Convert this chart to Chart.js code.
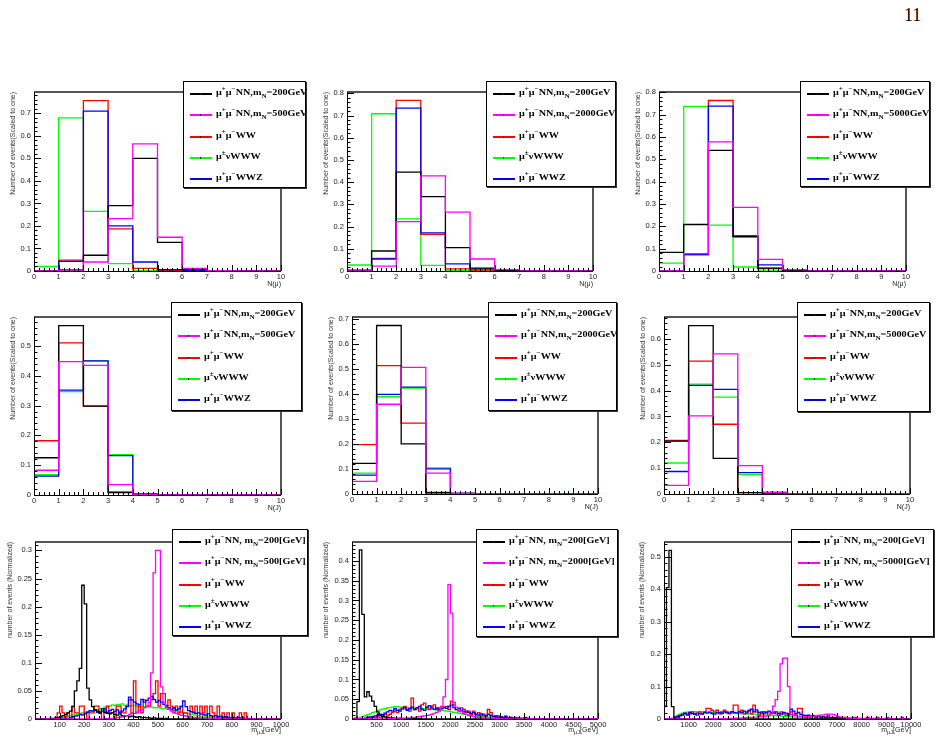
<!DOCTYPE html>
<html><head>
<meta charset="UTF-8">
<title>N(mu), N(J), m_muJ distributions</title>
<script src="https://cdn.jsdelivr.net/npm/chart.js"></script>
<style>
body {
  margin: 0;
  background: #ffffff;
  width: 941px;
  height: 742px;
  position: relative;
  overflow: hidden;
  font-family: "Liberation Sans", Arial, sans-serif;
}
canvas.pad { position: absolute; }
.leg {
  position: absolute;
  background: #fff;
  border: 1px solid #000;
  box-shadow: 1px 1px 0 #333;
  box-sizing: border-box;
  z-index: 2;
}
.leg .row { position: absolute; left: 0; right: 0; height: 0; }
.leg .smp { position: absolute; left: 6px; width: 22px; height: 2px; top: -1px; }
.leg .smp i { position: absolute; left: 10px; top: 0; width: 1px; height: 2px; background: #222; }
.leg .txt {
  position: absolute;
  left: 32px;
  top: -7px;
  line-height: 14px;
  font: bold 9px "Liberation Serif", "Times New Roman", serif;
  white-space: nowrap;
  transform: scaleX(1.13);
  transform-origin: 0 50%;
}
sup, sub { font-size: 70%; line-height: 0; }
.xt { position: absolute; font-size: 7px; line-height: 8px; color: #222; white-space: nowrap; }
.xt sub { font-size: 80%; }
#pageno { position: absolute; left: 904px; top: 5px; font: 18px "Liberation Serif", "Times New Roman", serif; }
</style>
</head>
<body>
<div id="pageno">11</div>

<script>
// ---- tick labels ----
const nTicks = [0, 1, 2, 3, 4, 5, 6, 7, 8, 9, 10];
const mTicks1000 = [100, 200, 300, 400, 500, 600, 700, 800, 900, 1000];
const mTicks5000 = [500, 1000, 1500, 2000, 2500, 3000, 3500, 4000, 4500, 5000];
const mTicks10000 = [1000, 2000, 3000, 4000, 5000, 6000, 7000, 8000, 9000, 10000];
const yTicks05 = [0, 0.1, 0.2, 0.3, 0.4, 0.5];
const yTicks06 = [0, 0.1, 0.2, 0.3, 0.4, 0.5, 0.6];
const yTicks07 = [0, 0.1, 0.2, 0.3, 0.4, 0.5, 0.6, 0.7];
const yTicks08 = [0, 0.1, 0.2, 0.3, 0.4, 0.5, 0.6, 0.7, 0.8];
const yTicks030 = [0, 0.05, 0.1, 0.15, 0.2, 0.25, 0.3];
const yTicks040 = [0, 0.05, 0.1, 0.15, 0.2, 0.25, 0.3, 0.35, 0.4];

// ---- N(mu), bins 0..10 ----
const p1_nn200 = [0, 0.005, 0.07, 0.29, 0.5, 0.127, 0.006, 0, 0, 0];
const p1_nn500 = [0, 0.004, 0.04, 0.233, 0.565, 0.15, 0.012, 0.001, 0, 0];
const p1_ww    = [0, 0.048, 0.757, 0.187, 0.012, 0.001, 0, 0, 0, 0];
const p1_www   = [0.02, 0.68, 0.265, 0.033, 0.002, 0, 0, 0, 0, 0];
const p1_wwz   = [0, 0.043, 0.71, 0.2, 0.04, 0.006, 0.001, 0, 0, 0];

const p2_nn200  = [0.004, 0.09, 0.445, 0.335, 0.105, 0.013, 0.002, 0, 0, 0];
const p2_nn2000 = [0, 0.022, 0.222, 0.428, 0.265, 0.054, 0.006, 0.001, 0, 0];
const p2_ww     = [0, 0.057, 0.768, 0.165, 0.01, 0, 0, 0, 0, 0];
const p2_www    = [0.027, 0.708, 0.235, 0.025, 0.003, 0, 0, 0, 0, 0];
const p2_wwz    = [0, 0.054, 0.733, 0.172, 0.032, 0.008, 0.001, 0, 0, 0];

const p3_nn200  = [0.083, 0.208, 0.54, 0.155, 0.013, 0.001, 0, 0, 0, 0];
const p3_nn5000 = [0, 0.078, 0.578, 0.285, 0.052, 0.006, 0.001, 0, 0, 0];
const p3_ww     = [0, 0.073, 0.763, 0.152, 0.012, 0, 0, 0, 0, 0];
const p3_www    = [0.035, 0.737, 0.205, 0.018, 0.004, 0, 0, 0, 0, 0];
const p3_wwz    = [0, 0.073, 0.738, 0.157, 0.027, 0.005, 0, 0, 0, 0];

// ---- N(J), bins 0..10 ----
const p4_nn200 = [0.125, 0.568, 0.298, 0.008, 0, 0, 0, 0, 0, 0];
const p4_nn500 = [0.083, 0.447, 0.435, 0.035, 0.001, 0, 0, 0, 0, 0];
const p4_ww    = [0.182, 0.51, 0.298, 0.01, 0, 0, 0, 0, 0, 0];
const p4_www   = [0.068, 0.347, 0.45, 0.135, 0.003, 0, 0, 0, 0, 0];
const p4_wwz   = [0.063, 0.352, 0.45, 0.132, 0.004, 0, 0, 0, 0, 0];

const p5_nn200  = [0.122, 0.672, 0.2, 0.005, 0, 0, 0, 0, 0, 0];
const p5_nn2000 = [0.05, 0.358, 0.505, 0.083, 0.003, 0, 0, 0, 0, 0];
const p5_ww     = [0.197, 0.512, 0.283, 0.006, 0, 0, 0, 0, 0, 0];
const p5_www    = [0.083, 0.388, 0.422, 0.104, 0.003, 0, 0, 0, 0, 0];
const p5_wwz    = [0.075, 0.397, 0.426, 0.1, 0.002, 0, 0, 0, 0, 0];

const p6_nn200  = [0.205, 0.652, 0.138, 0.005, 0, 0, 0, 0, 0, 0];
const p6_nn5000 = [0.033, 0.302, 0.542, 0.11, 0.006, 0, 0, 0, 0, 0];
const p6_ww     = [0.207, 0.514, 0.27, 0.005, 0, 0, 0, 0, 0, 0];
const p6_www    = [0.12, 0.425, 0.375, 0.075, 0.005, 0, 0, 0, 0, 0];
const p6_wwz    = [0.087, 0.42, 0.405, 0.083, 0.006, 0, 0, 0, 0, 0];

// ---- m_muJ, 0..1000 GeV, 10 GeV bins ----
const p7_nn200 = [
  0, 0, 0, 0, 0, 0, 0.001, 0.001, 0.002, 0.003,
  0.004, 0.006, 0.008, 0.011, 0.014, 0.022, 0.05, 0.068, 0.09, 0.238,
  0.205, 0.055, 0.034, 0.022, 0.016, 0.014, 0.012, 0.018, 0.012, 0.01,
  0.009, 0.011, 0.008, 0.007, 0.009, 0.006, 0.005, 0.006, 0.004, 0.005,
  0.004, 0.003, 0.004, 0.002, 0.003, 0.002, 0.002, 0.001, 0.002, 0.001,
  0.001, 0.001, 0, 0.001, 0, 0, 0, 0, 0, 0,
  0, 0, 0, 0, 0, 0, 0, 0, 0, 0,
  0, 0, 0, 0, 0, 0, 0, 0, 0, 0,
  0, 0, 0, 0, 0, 0, 0, 0, 0, 0,
  0, 0, 0, 0, 0, 0, 0, 0, 0, 0];
const p7_nn500 = [
  0, 0, 0, 0, 0, 0, 0, 0, 0, 0,
  0, 0, 0, 0, 0, 0, 0, 0, 0, 0,
  0, 0, 0, 0, 0, 0, 0, 0, 0.001, 0.001,
  0.001, 0.001, 0.002, 0.002, 0.003, 0.004, 0.005, 0.006, 0.008, 0.01,
  0.01, 0.012, 0.015, 0.016, 0.02, 0.022, 0.03, 0.082, 0.26, 0.3,
  0.3, 0.057, 0.03, 0.02, 0.017, 0.014, 0.012, 0.01, 0.008, 0.007,
  0.006, 0.005, 0.004, 0.004, 0.003, 0.003, 0.002, 0.002, 0.002, 0.002,
  0.001, 0.001, 0.001, 0.001, 0.001, 0, 0, 0, 0, 0,
  0, 0, 0, 0, 0, 0, 0, 0, 0, 0,
  0, 0, 0, 0, 0, 0, 0, 0, 0, 0];
const p7_ww = [
  0, 0, 0, 0, 0, 0, 0, 0, 0, 0.011,
  0.023, 0.011, 0, 0.011, 0, 0.023, 0.011, 0.011, 0.023, 0.023,
  0.011, 0, 0.011, 0.011, 0.023, 0.023, 0.011, 0, 0.011, 0.023,
  0.011, 0.011, 0, 0.023, 0.023, 0.011, 0.011, 0.023, 0.034, 0.011,
  0.068, 0.011, 0.023, 0.011, 0.034, 0.023, 0.023, 0.034, 0.045, 0.068,
  0.023, 0.045, 0.045, 0.023, 0.034, 0.023, 0.011, 0.023, 0.011, 0.023,
  0.011, 0.011, 0, 0.023, 0.011, 0.023, 0, 0.023, 0.011, 0.023,
  0, 0.023, 0.011, 0, 0.023, 0, 0.011, 0, 0.011, 0,
  0.011, 0, 0, 0.011, 0, 0.011, 0, 0, 0, 0,
  0, 0, 0, 0, 0, 0, 0, 0, 0, 0];
const p7_www = [
  0, 0, 0, 0, 0, 0, 0, 0, 0, 0.001,
  0.002, 0.003, 0.004, 0.005, 0.006, 0.007, 0.008, 0.009, 0.01, 0.011,
  0.012, 0.013, 0.014, 0.015, 0.016, 0.017, 0.018, 0.019, 0.021, 0.022,
  0.023, 0.025, 0.024, 0.026, 0.025, 0.027, 0.024, 0.025, 0.023, 0.024,
  0.024, 0.023, 0.022, 0.023, 0.022, 0.021, 0.022, 0.021, 0.02, 0.02,
  0.02, 0.019, 0.018, 0.018, 0.017, 0.016, 0.015, 0.014, 0.013, 0.012,
  0.011, 0.01, 0.009, 0.008, 0.008, 0.007, 0.006, 0.005, 0.005, 0.004,
  0.004, 0.003, 0.003, 0.003, 0.002, 0.002, 0.002, 0.002, 0.001, 0.001,
  0.001, 0.001, 0.001, 0, 0, 0, 0, 0, 0, 0,
  0, 0, 0, 0, 0, 0, 0, 0, 0, 0];
const p7_wwz = [
  0, 0, 0, 0, 0, 0, 0, 0, 0, 0,
  0, 0, 0, 0, 0.002, 0.004, 0.005, 0.006, 0.008, 0.007,
  0.009, 0.012, 0.015, 0.014, 0.016, 0.012, 0.01, 0.014, 0.018, 0.012,
  0.015, 0.017, 0.013, 0.016, 0.012, 0.014, 0.018, 0.022, 0.039, 0.034,
  0.03, 0.027, 0.025, 0.035, 0.03, 0.033, 0.037, 0.04, 0.035, 0.03,
  0.033, 0.03, 0.026, 0.024, 0.02, 0.017, 0.02, 0.016, 0.018, 0.022,
  0.032, 0.022, 0.015, 0.013, 0.012, 0.01, 0.011, 0.009, 0.008, 0.007,
  0.009, 0.006, 0.005, 0.006, 0.004, 0.005, 0.003, 0.004, 0.003, 0.002,
  0.003, 0.002, 0.003, 0.002, 0.002, 0.001, 0.001, 0, 0, 0,
  0, 0, 0, 0, 0, 0, 0, 0, 0, 0];

// ---- m_muJ, 0..5000 GeV, 50 GeV bins ----
const p8_nn200 = [
  0, 0.002, 0.044, 0.428, 0.265, 0.056, 0.069, 0.058, 0.045, 0.032,
  0.018, 0.01, 0.007, 0.005, 0.004, 0.003, 0.003, 0.002, 0.002, 0.002,
  0.001, 0.001, 0.001, 0.001, 0.001, 0.001, 0, 0.001, 0, 0,
  0, 0, 0, 0, 0, 0, 0, 0, 0, 0,
  0, 0, 0, 0, 0, 0, 0, 0, 0, 0,
  0, 0, 0, 0, 0, 0, 0, 0, 0, 0,
  0, 0, 0, 0, 0, 0, 0, 0, 0, 0,
  0, 0, 0, 0, 0, 0, 0, 0, 0, 0,
  0, 0, 0, 0, 0, 0, 0, 0, 0, 0,
  0, 0, 0, 0, 0, 0, 0, 0, 0, 0];
const p8_nn2000 = [
  0, 0, 0, 0, 0, 0, 0, 0, 0, 0,
  0, 0, 0, 0, 0.001, 0.001, 0.001, 0.001, 0.001, 0.001,
  0.002, 0.002, 0.003, 0.003, 0.004, 0.004, 0.005, 0.006, 0.007, 0.008,
  0.009, 0.01, 0.012, 0.014, 0.017, 0.02, 0.03, 0.056, 0.1, 0.34,
  0.268, 0.042, 0.03, 0.022, 0.018, 0.014, 0.011, 0.009, 0.007, 0.006,
  0.005, 0.004, 0.004, 0.003, 0.003, 0.002, 0.002, 0.002, 0.001, 0.001,
  0.001, 0, 0, 0, 0, 0, 0, 0, 0, 0,
  0, 0, 0, 0, 0, 0, 0, 0, 0, 0,
  0, 0, 0, 0, 0, 0, 0, 0, 0, 0,
  0, 0, 0, 0, 0, 0, 0, 0, 0, 0];
const p8_ww = [
  0, 0, 0, 0, 0, 0, 0.004, 0, 0.004, 0.004,
  0.008, 0.004, 0.008, 0.012, 0.008, 0.012, 0.016, 0.02, 0.016, 0.024,
  0.028, 0.032, 0.024, 0.02, 0.053, 0.024, 0.028, 0.02, 0.036, 0.04,
  0.028, 0.024, 0.032, 0.036, 0.024, 0.028, 0.032, 0.028, 0.032, 0.024,
  0.045, 0.036, 0.024, 0.02, 0.028, 0.024, 0.016, 0.02, 0.012, 0.02,
  0.012, 0.016, 0.008, 0.012, 0.008, 0.024, 0.016, 0.008, 0.004, 0.008,
  0.004, 0.004, 0.008, 0, 0.004, 0, 0.004, 0, 0, 0,
  0.004, 0, 0, 0, 0, 0, 0, 0, 0, 0,
  0, 0, 0, 0, 0, 0, 0, 0, 0, 0,
  0, 0, 0, 0, 0, 0, 0, 0, 0, 0];
const p8_www = [
  0, 0.001, 0.002, 0.004, 0.006, 0.009, 0.011, 0.013, 0.016, 0.018,
  0.021, 0.023, 0.025, 0.026, 0.028, 0.029, 0.03, 0.031, 0.031, 0.03,
  0.03, 0.029, 0.029, 0.028, 0.028, 0.027, 0.027, 0.026, 0.027, 0.026,
  0.026, 0.025, 0.025, 0.024, 0.023, 0.022, 0.022, 0.021, 0.02, 0.019,
  0.018, 0.017, 0.016, 0.014, 0.013, 0.012, 0.011, 0.01, 0.009, 0.008,
  0.008, 0.007, 0.006, 0.006, 0.005, 0.005, 0.004, 0.004, 0.003, 0.003,
  0.003, 0.002, 0.002, 0.002, 0.002, 0.001, 0.001, 0.001, 0.001, 0.001,
  0.001, 0, 0, 0, 0, 0, 0, 0, 0, 0,
  0, 0, 0, 0, 0, 0, 0, 0, 0, 0,
  0, 0, 0, 0, 0, 0, 0, 0, 0, 0];
const p8_wwz = [
  0, 0, 0, 0, 0, 0.002, 0.004, 0.005, 0.006, 0.008,
  0.01, 0.012, 0.011, 0.015, 0.018, 0.022, 0.02, 0.026, 0.022, 0.02,
  0.025, 0.028, 0.022, 0.026, 0.03, 0.024, 0.028, 0.032, 0.025, 0.022,
  0.03, 0.034, 0.028, 0.025, 0.028, 0.024, 0.026, 0.03, 0.027, 0.032,
  0.035, 0.029, 0.024, 0.027, 0.022, 0.018, 0.02, 0.016, 0.014, 0.016,
  0.012, 0.01, 0.013, 0.01, 0.008, 0.012, 0.009, 0.006, 0.008, 0.005,
  0.006, 0.004, 0.005, 0.003, 0.004, 0.003, 0.002, 0.003, 0.002, 0.002,
  0.002, 0.002, 0.001, 0, 0, 0, 0, 0, 0, 0,
  0, 0, 0, 0, 0, 0, 0, 0, 0, 0,
  0, 0, 0, 0, 0, 0, 0, 0, 0, 0];

// ---- m_muJ, 0..10000 GeV, 100 GeV bins ----
const p9_nn200 = [
  0.04, 0.405, 0.52, 0.038, 0.002, 0.001, 0.001, 0, 0, 0,
  0, 0, 0, 0, 0, 0, 0, 0, 0, 0,
  0, 0, 0, 0, 0, 0, 0, 0, 0, 0,
  0, 0, 0, 0, 0, 0, 0, 0, 0, 0,
  0, 0, 0, 0, 0, 0, 0, 0, 0, 0,
  0, 0, 0, 0, 0, 0, 0, 0, 0, 0,
  0, 0, 0, 0, 0, 0, 0, 0, 0, 0,
  0, 0, 0, 0, 0, 0, 0, 0, 0, 0,
  0, 0, 0, 0, 0, 0, 0, 0, 0, 0,
  0, 0, 0, 0, 0, 0, 0, 0, 0, 0];
const p9_nn5000 = [
  0, 0, 0, 0, 0, 0, 0, 0, 0, 0,
  0, 0, 0, 0, 0, 0.001, 0.001, 0.001, 0.001, 0.001,
  0.001, 0.001, 0.001, 0.001, 0.001, 0.002, 0.002, 0.002, 0.003, 0.003,
  0.003, 0.003, 0.004, 0.004, 0.005, 0.005, 0.006, 0.006, 0.007, 0.007,
  0.008, 0.009, 0.01, 0.017, 0.04, 0.06, 0.085, 0.17, 0.188, 0.188,
  0.1, 0.015, 0.012, 0.01, 0.009, 0.008, 0.008, 0.007, 0.007, 0.007,
  0.008, 0.009, 0.01, 0.012, 0.013, 0.014, 0.015, 0.015, 0.014, 0.012,
  0.008, 0.006, 0.005, 0.004, 0.003, 0.003, 0.002, 0.002, 0.001, 0.001,
  0.001, 0, 0, 0, 0, 0, 0, 0, 0, 0,
  0, 0, 0, 0, 0, 0, 0, 0, 0, 0];
const p9_ww = [
  0, 0, 0, 0, 0.005, 0.005, 0.011, 0.011, 0.016, 0.011,
  0.016, 0.022, 0.016, 0.011, 0.022, 0.016, 0.022, 0.033, 0.033, 0.027,
  0.022, 0.027, 0.016, 0.022, 0.027, 0.022, 0.016, 0.022, 0.043, 0.043,
  0.022, 0.027, 0.016, 0.022, 0.027, 0.016, 0.043, 0.022, 0.011, 0.022,
  0.016, 0.022, 0.011, 0.016, 0.022, 0.016, 0.011, 0.022, 0.016, 0.011,
  0.011, 0.022, 0.011, 0.016, 0.033, 0.033, 0.011, 0.005, 0.011, 0.005,
  0.011, 0.005, 0.011, 0.005, 0, 0.005, 0.011, 0.005, 0, 0.005,
  0, 0.005, 0, 0.005, 0, 0, 0, 0.005, 0, 0,
  0, 0, 0.005, 0, 0, 0, 0.005, 0, 0, 0,
  0.005, 0, 0, 0, 0, 0, 0.005, 0, 0, 0];
const p9_www = [
  0, 0, 0, 0.003, 0.007, 0.011, 0.015, 0.018, 0.02, 0.021,
  0.022, 0.022, 0.023, 0.022, 0.022, 0.021, 0.021, 0.021, 0.02, 0.02,
  0.02, 0.02, 0.019, 0.019, 0.019, 0.018, 0.018, 0.018, 0.017, 0.017,
  0.017, 0.016, 0.016, 0.015, 0.015, 0.015, 0.014, 0.014, 0.013, 0.013,
  0.012, 0.012, 0.011, 0.011, 0.01, 0.01, 0.009, 0.009, 0.008, 0.008,
  0.007, 0.007, 0.006, 0.006, 0.006, 0.005, 0.005, 0.004, 0.004, 0.004,
  0.003, 0.003, 0.003, 0.003, 0.002, 0.002, 0.002, 0.002, 0.002, 0.001,
  0.001, 0.001, 0.001, 0.001, 0.001, 0.001, 0, 0, 0, 0,
  0, 0, 0, 0, 0, 0, 0, 0, 0, 0,
  0, 0, 0, 0, 0, 0, 0, 0, 0, 0];
const p9_wwz = [
  0, 0, 0, 0, 0.004, 0.008, 0.01, 0.014, 0.018, 0.015,
  0.02, 0.017, 0.014, 0.018, 0.016, 0.015, 0.02, 0.018, 0.021, 0.017,
  0.015, 0.019, 0.02, 0.017, 0.022, 0.02, 0.018, 0.023, 0.02, 0.019,
  0.022, 0.02, 0.024, 0.018, 0.025, 0.03, 0.022, 0.028, 0.02, 0.018,
  0.022, 0.019, 0.024, 0.02, 0.018, 0.022, 0.017, 0.015, 0.02, 0.018,
  0.014, 0.03, 0.024, 0.016, 0.02, 0.014, 0.012, 0.01, 0.012, 0.008,
  0.01, 0.007, 0.008, 0.006, 0.007, 0.005, 0.006, 0.004, 0.005, 0.004,
  0.005, 0.003, 0.004, 0.003, 0.003, 0.002, 0.003, 0.002, 0.002, 0.002,
  0.001, 0.002, 0.001, 0.001, 0.001, 0.002, 0.001, 0.001, 0, 0,
  0, 0, 0, 0, 0, 0, 0, 0, 0, 0];

// ---- legend labels ----
const bkgLabels = [
  '&mu;<sup>+</sup>&mu;<sup>&minus;</sup>WW',
  '&mu;<sup>&plusmn;</sup>&nu;WWW',
  '&mu;<sup>+</sup>&mu;<sup>&minus;</sup>WWZ'
];
const sigLabel = m => '&mu;<sup>+</sup>&mu;<sup>&minus;</sup>NN,m<sub>N</sub>=' + m + 'GeV';
const sigLabelM = m => '&mu;<sup>+</sup>&mu;<sup>&minus;</sup>NN, m<sub>N</sub>=' + m + '[GeV]';

const colors = ['#000000', '#ff00ff', '#ff0000', '#00ff00', '#0000ff'];
const drawOrder = [1, 0, 3, 4, 2];

const ytN = 'Number of events(Scaled to one)';
const ytM = 'number of events (Normalized)';

const panels = [
  { f: [34, 92, 281, 271], lo: 0, hi: 10, w: 1, ymax: 0.795, xt: nTicks, xm: 0.2, yt: yTicks07, ymaj: 0.1, ym: 0.02,
    s: [p1_nn200, p1_nn500, p1_ww, p1_www, p1_wwz], ytitle: ytN, ytp: 10, xtitle: 'N(&mu;)',
    leg: [183, 81, 123, 107], lab: [sigLabel(200), sigLabel(500)] },
  { f: [347, 92, 593, 271], lo: 0, hi: 10, w: 1, ymax: 0.806, xt: nTicks, xm: 0.2, yt: yTicks08, ymaj: 0.1, ym: 0.02,
    s: [p2_nn200, p2_nn2000, p2_ww, p2_www, p2_wwz], ytitle: ytN, ytp: 10, xtitle: 'N(&mu;)',
    leg: [486, 81, 130, 106], lab: [sigLabel(200), sigLabel(2000)] },
  { f: [659, 92, 906, 271], lo: 0, hi: 10, w: 1, ymax: 0.801, xt: nTicks, xm: 0.2, yt: yTicks08, ymaj: 0.1, ym: 0.02,
    s: [p3_nn200, p3_nn5000, p3_ww, p3_www, p3_wwz], ytitle: ytN, ytp: 10, xtitle: 'N(&mu;)',
    leg: [800, 81, 130, 106], lab: [sigLabel(200), sigLabel(5000)] },
  { f: [34, 317, 281, 495], lo: 0, hi: 10, w: 1, ymax: 0.597, xt: nTicks, xm: 0.2, yt: yTicks05, ymaj: 0.1, ym: 0.02,
    s: [p4_nn200, p4_nn500, p4_ww, p4_www, p4_wwz], ytitle: ytN, ytp: 10, xtitle: 'N(J)',
    leg: [171, 302, 131, 109], lab: [sigLabel(200), sigLabel(500)] },
  { f: [352, 317, 598, 494], lo: 0, hi: 10, w: 1, ymax: 0.706, xt: nTicks, xm: 0.2, yt: yTicks07, ymaj: 0.1, ym: 0.02,
    s: [p5_nn200, p5_nn2000, p5_ww, p5_www, p5_wwz], ytitle: ytN, ytp: 10, xtitle: 'N(J)',
    leg: [488, 302, 129, 109], lab: [sigLabel(200), sigLabel(2000)] },
  { f: [664, 317, 910, 494], lo: 0, hi: 10, w: 1, ymax: 0.685, xt: nTicks, xm: 0.2, yt: yTicks06, ymaj: 0.1, ym: 0.02,
    s: [p6_nn200, p6_nn5000, p6_ww, p6_www, p6_wwz], ytitle: ytN, ytp: 10, xtitle: 'N(J)',
    leg: [797, 302, 133, 110], lab: [sigLabel(200), sigLabel(5000)] },
  { f: [35, 542, 281, 719], lo: 0, hi: 1000, w: 10, ymax: 0.315, xt: mTicks1000, xm: 20, yt: yTicks030, ymaj: 0.05, ym: 0.01,
    s: [p7_nn200, p7_nn500, p7_ww, p7_www, p7_wwz], ytitle: ytM, ytp: 6, xtitle: 'm<sub>&mu;J</sub>[GeV]',
    leg: [172, 529, 136, 107], lab: [sigLabelM(200), sigLabelM(500)] },
  { f: [352, 542, 598, 719], lo: 0, hi: 5000, w: 50, ymax: 0.448, xt: mTicks5000, xm: 100, yt: yTicks040, ymaj: 0.05, ym: 0.01,
    s: [p8_nn200, p8_nn2000, p8_ww, p8_www, p8_wwz], ytitle: ytM, ytp: 5, xtitle: 'm<sub>&mu;J</sub>[GeV]',
    leg: [476, 529, 142, 108], lab: [sigLabelM(200), sigLabelM(2000)] },
  { f: [664, 542, 911, 719], lo: 0, hi: 10000, w: 100, ymax: 0.546, xt: mTicks10000, xm: 200, yt: yTicks05, ymaj: 0.1, ym: 0.02,
    s: [p9_nn200, p9_nn5000, p9_ww, p9_www, p9_wwz], ytitle: ytM, ytp: 9, xtitle: 'm<sub>&mu;J</sub>[GeV]',
    leg: [791, 529, 143, 108], lab: [sigLabelM(200), sigLabelM(5000)] }
];

// bin contents -> step outline points at the bin low edges
function histPoints(vals, lo, w) {
  const pts = vals.map((v, i) => ({ x: lo + i * w, y: v }));
  pts.push({ x: lo + vals.length * w, y: vals[vals.length - 1] });
  return pts;
}

// ROOT-like frame with ticks pointing inwards
const rootAxes = {
  id: 'rootAxes',
  afterDatasetsDraw(chart, args, o) {
    const { ctx, chartArea: a, scales: { x, y } } = chart;
    ctx.save();
    ctx.strokeStyle = '#555';
    ctx.lineWidth = 2;
    ctx.beginPath();
    ctx.moveTo(a.left, a.top);
    ctx.lineTo(a.right, a.top);
    ctx.lineTo(a.right, a.bottom);
    ctx.stroke();

    ctx.strokeStyle = '#000';
    ctx.lineWidth = 1;
    ctx.beginPath();
    ctx.moveTo(a.left + 0.5, a.top);
    ctx.lineTo(a.left + 0.5, a.bottom + 0.5);
    ctx.lineTo(a.right, a.bottom + 0.5);

    const ny = Math.floor(o.ymax / o.ym + 1e-6);
    for (let k = 0; k <= ny; k++) {
      const v = k * o.ym;
      const r = v / o.ymaj;
      const major = Math.abs(r - Math.round(r)) < 1e-6;
      const py = Math.round(y.getPixelForValue(v)) + 0.5;
      ctx.moveTo(a.left, py);
      ctx.lineTo(a.left + (major ? 7 : 3.5), py);
    }
    const nx = Math.round((o.hi - o.lo) / o.xm);
    const perMajor = Math.round((o.xt[1] - o.xt[0]) / o.xm);
    for (let k = 0; k <= nx; k++) {
      const v = o.lo + k * o.xm;
      const major = k % perMajor === 0;
      const px = Math.round(x.getPixelForValue(v)) + 0.5;
      ctx.moveTo(px, a.bottom);
      ctx.lineTo(px, a.bottom - (major ? 6 : 3));
    }
    ctx.stroke();
    ctx.restore();
  }
};

const tickFont = { family: '"Liberation Sans", Arial, sans-serif', size: 7.5 };
const fmt = v => String(Math.round(v * 1000) / 1000);

panels.forEach((p, idx) => {
  const [L, T, R, B] = p.f;
  const padTop = 8, padRight = 16, yW = 35, xH = 20;
  const cv = document.createElement('canvas');
  cv.className = 'pad';
  cv.width = (R - L) + yW + padRight;
  cv.height = (B - T) + padTop + xH;
  cv.style.left = (L - yW) + 'px';
  cv.style.top = (T - padTop) + 'px';
  document.body.appendChild(cv);

  const datasets = p.s.map((vals, i) => ({
    data: histPoints(vals, p.lo, p.w),
    borderColor: colors[i],
    borderWidth: 1.3,
    stepped: 'before',
    pointRadius: 0,
    fill: false,
    order: drawOrder[i]
  }));

  new Chart(cv, {
    type: 'line',
    data: { datasets },
    options: {
      responsive: false,
      animation: false,
      events: [],
      layout: { padding: { left: 0, top: padTop, right: padRight, bottom: 0 } },
      plugins: {
        legend: { display: false },
        tooltip: { enabled: false },
        rootAxes: { ymax: p.ymax, ym: p.ym, ymaj: p.ymaj, lo: p.lo, hi: p.hi, xm: p.xm, xt: p.xt }
      },
      scales: {
        x: {
          type: 'linear',
          min: p.lo,
          max: p.hi,
          grid: { display: false, drawTicks: false },
          border: { display: false },
          afterBuildTicks: s => { s.ticks = p.xt.map(v => ({ value: v })); },
          afterFit: s => { s.height = xH; },
          ticks: { font: tickFont, color: '#222', padding: 1, autoSkip: false, maxRotation: 0, minRotation: 0, callback: fmt }
        },
        y: {
          type: 'linear',
          min: 0,
          max: p.ymax,
          grid: { display: false, drawTicks: false },
          border: { display: false },
          afterBuildTicks: s => { s.ticks = p.yt.map(v => ({ value: v })); },
          afterFit: s => { s.width = yW; },
          ticks: { font: tickFont, color: '#222', padding: 3, autoSkip: false, callback: fmt },
          title: {
            display: true,
            text: p.ytitle,
            align: 'end',
            color: '#333',
            font: { family: '"Liberation Sans", Arial, sans-serif', size: 7 },
            padding: { top: p.ytp, bottom: 0 }
          }
        }
      }
    },
    plugins: [rootAxes]
  });

  // x axis title (HTML for the subscript)
  const xt = document.createElement('div');
  xt.className = 'xt';
  xt.style.right = (941 - R) + 'px';
  xt.style.top = (B + (idx >= 6 ? 7 : 9)) + 'px';
  xt.innerHTML = p.xtitle;
  document.body.appendChild(xt);

  // legend box
  const [lx, ly, lw, lh] = p.leg;
  const lg = document.createElement('div');
  lg.className = 'leg';
  lg.style.left = lx + 'px';
  lg.style.top = ly + 'px';
  lg.style.width = lw + 'px';
  lg.style.height = lh + 'px';
  const labels = p.lab.concat(bkgLabels);
  labels.forEach((txt, i) => {
    const row = document.createElement('div');
    row.className = 'row';
    row.style.top = Math.round(12 + i * 21.3) + 'px';
    row.innerHTML = '<div class="smp" style="background:' + colors[i] + '"><i></i></div><div class="txt">' + txt + '</div>';
    lg.appendChild(row);
  });
  document.body.appendChild(lg);
});
</script>
</body></html>
